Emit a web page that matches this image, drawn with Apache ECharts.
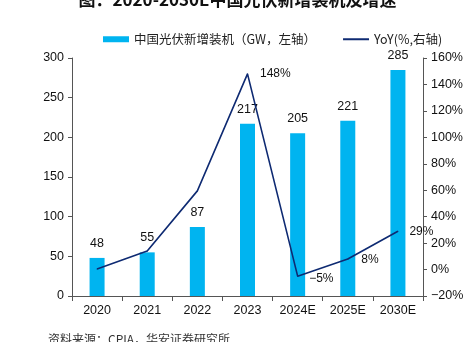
<!DOCTYPE html>
<html><head><meta charset="utf-8">
<script src="https://cdn.jsdelivr.net/npm/echarts@6/dist/echarts.min.js"></script>
<style>html,body{margin:0;padding:0;background:#fff}#c{width:475px;height:342px}</style>
</head><body><div id="c"></div>
<script>
const categories = ['2020','2021','2022','2023','2024E','2025E','2030E'];
const installs = [48, 55, 87, 217, 205, 221, 285];
const yoy = [0.5, 14, 59.5, 148, -5, 8, 29];
const yoyLabels = ['', '', '', '148%', '−5%', '8%', '29%'];
const leftTicks = [0, 300, 50];
const rightTicks = [-20, 160, 20];

const chart = echarts.init(document.getElementById('c'), null, {renderer:'canvas'});
const labelOffsets = {3:[6,0],4:[5,3],5:[7,1],6:[5,0]};
chart.setOption({
  animation:false,
  title:{text:'图：2020-2030E中国光伏新增装机及增速', left:'center', top:-14,
    textStyle:{fontSize:17,fontWeight:'bold',color:'#111',fontFamily:'Noto Sans CJK SC'}},
  legend:{top:28, left:98, itemGap:26, itemWidth:26, itemHeight:6,
    textStyle:{fontSize:12.5,color:'#222',fontFamily:'Noto Sans CJK SC'},
    data:[{name:'中国光伏新增装机（GW，左轴）', icon:'rect'},
          {name:'YoY(%,右轴)', itemStyle:{opacity:0}}]},
  grid:{left:72, right:52, top:58, bottom:46},
  xAxis:{type:'category', data:categories,
    axisLine:{lineStyle:{color:'#555'}},
    axisTick:{show:true, alignWithLabel:false, length:5, lineStyle:{color:'#555'}},
    axisLabel:{color:'#111', fontSize:12.5, fontFamily:'Liberation Sans', margin:8}},
  yAxis:[
    {type:'value', min:leftTicks[0], max:leftTicks[1], interval:leftTicks[2],
     axisLine:{show:true, lineStyle:{color:'#555'}},
     axisTick:{show:true, length:4, lineStyle:{color:'#555'}},
     splitLine:{show:false},
     axisLabel:{color:'#111', fontSize:12.5, fontFamily:'Liberation Sans', margin:8}},
    {type:'value', min:rightTicks[0], max:rightTicks[1], interval:rightTicks[2],
     axisLine:{show:true, lineStyle:{color:'#555'}},
     axisTick:{show:true, length:4, lineStyle:{color:'#555'}},
     splitLine:{show:false},
     axisLabel:{color:'#111', fontSize:12.5, fontFamily:'Liberation Sans', margin:8,
       formatter:v => (v<0?'−':'') + Math.abs(v) + '%'}}
  ],
  series:[
    {name:'中国光伏新增装机（GW，左轴）', type:'bar', data:installs, barWidth:15,
     itemStyle:{color:'#00B4F0'},
     label:{show:true, position:'top', distance:8, color:'#111', fontSize:12.5, fontFamily:'Liberation Sans'}},
    {name:'YoY(%,右轴)', type:'line', yAxisIndex:1,
     data:yoy.map((v,i)=>({value:v, label:{offset:labelOffsets[i]||[0,0]}})),
     symbol:'circle', symbolSize:1, showSymbol:true,
     lineStyle:{color:'#0E2A72', width:1.6}, itemStyle:{color:'#0E2A72'},
     label:{show:true, position:'right', distance:6, color:'#111', fontSize:12, fontFamily:'Liberation Sans',
       formatter:p => yoyLabels[p.dataIndex]}}
  ],
  graphic:[{type:'text', left:48, top:333, style:{text:'资料来源：CPIA，华安证券研究所', fontSize:12, fill:'#333', fontFamily:'Noto Sans CJK SC'}}]
});
</script></body></html>
